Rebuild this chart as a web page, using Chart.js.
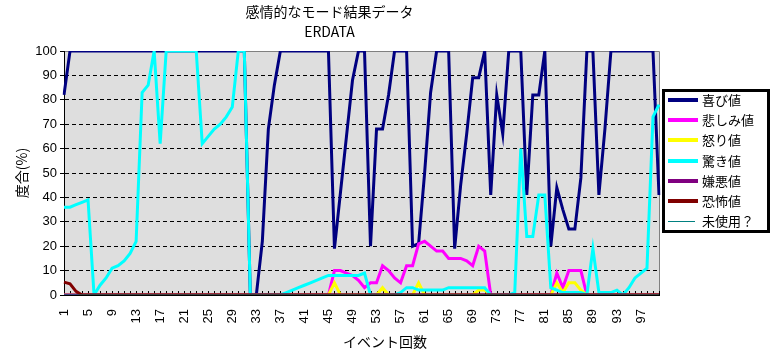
<!DOCTYPE html>
<html>
<head>
<meta charset="utf-8">
<title>ERDATA</title>
<script src="https://cdn.jsdelivr.net/npm/chart.js@4.4.1/dist/chart.umd.min.js"></script>
<style>
  html, body { margin: 0; padding: 0; background: #fff; }
</style>
</head>
<body>
<canvas id="erChart" width="774" height="359"></canvas>
<script>
// イベント番号（カテゴリ）
const categories = [
  1, 2, 3, 4, 5, 6, 7, 8, 9, 10, 11, 12, 13, 14, 15, 16, 17, 18, 19, 20,
  21, 22, 23, 24, 25, 26, 27, 28, 29, 30, 31, 32, 33, 34, 35, 36, 37, 38, 39, 40,
  41, 42, 43, 44, 45, 46, 47, 48, 49, 50, 51, 52, 53, 54, 55, 56, 57, 58, 59, 60,
  61, 62, 63, 64, 65, 66, 67, 68, 69, 70, 71, 72, 73, 74, 75, 76, 77, 78, 79, 80,
  81, 82, 83, 84, 85, 86, 87, 88, 89, 90, 91, 92, 93, 94, 95, 96, 97, 98, 99, 100
];
const xTickLabels = ['1', '5', '9', '13', '17', '21', '25', '29', '33', '37', '41', '45', '49',
  '53', '57', '61', '65', '69', '73', '77', '81', '85', '89', '93', '97'];
const yTickValues = [0, 10, 20, 30, 40, 50, 60, 70, 80, 90, 100];

const chartTitle = ['感情的なモード結果データ', 'ERDATA'];
const xAxisTitle = 'イベント回数';
const yAxisTitle = '度合(%)';
const seriesNames = ['喜び値', '悲しみ値', '怒り値', '驚き値', '嫌悪値', '恐怖値', '未使用？'];

// 各感情の値
const joyValues = [
  82, 100, 100, 100, 100, 100, 100, 100, 100, 100, 100, 100, 100, 100, 100, 100, 100, 100, 100, 100,
  100, 100, 100, 100, 100, 100, 100, 100, 100, 100, 100, 0, 0, 22, 68, 86, 100, 100, 100, 100,
  100, 100, 100, 100, 100, 19, 42, 65, 88, 100, 100, 20, 68, 68, 82, 100, 100, 100, 20, 21,
  50, 83, 100, 100, 100, 19, 45, 66, 89, 89, 100, 41, 82, 66, 100, 100, 100, 41, 82, 82,
  100, 20, 44, 35, 27, 27, 48, 100, 100, 41, 68, 100, 100, 100, 100, 100, 100, 100, 100, 41
];
const sadnessValues = [
  0, 0, 0, 0, 0, 0, 0, 0, 0, 0, 0, 0, 0, 0, 0, 0, 0, 0, 0, 0,
  0, 0, 0, 0, 0, 0, 0, 0, 0, 0, 0, 0, 0, 0, 0, 0, 0, 0, 0, 0,
  0, 0, 0, 0, 0, 10, 10, 9, 8, 6, 3, 5, 5, 12, 10, 7, 5, 12, 12, 21,
  22, 20, 18, 18, 15, 15, 15, 14, 12, 20, 18, 0, 0, 0, 0, 0, 0, 0, 0, 0,
  0, 0, 9, 3, 10, 10, 10, 0, 0, 0, 0, 0, 0, 0, 0, 0, 0, 0, 0, 0
];
const angerValues = [
  0, 0, 0, 0, 0, 0, 0, 0, 0, 0, 0, 0, 0, 0, 0, 0, 0, 0, 0, 0,
  0, 0, 0, 0, 0, 0, 0, 0, 0, 0, 0, 0, 0, 0, 0, 0, 0, 0, 0, 0,
  0, 0, 0, 0, 0, 5, 0, 0, 0, 0, 0, 0, 0, 3, 0, 0, 0, 0, 0, 5,
  0, 0, 0, 0, 0, 0, 0, 0, 0, 2, 2, 0, 0, 0, 0, 0, 0, 0, 0, 0,
  0, 0, 5, 1, 5, 5, 2, 0, 0, 0, 0, 0, 0, 0, 0, 0, 0, 0, 0, 0
];
const surpriseValues = [
  36, 36, 37, 38, 39, 0, 4, 7, 11, 12, 14, 17, 22, 83, 86, 100, 62, 100, 100, 100,
  100, 100, 100, 62, 65, 68, 70, 73, 77, 100, 100, 0, 0, 0, 0, 0, 0, 1, 2, 3,
  4, 5, 6, 7, 8, 8, 8, 8, 8, 8, 9, 0, 0, 0, 0, 0, 1, 3, 3, 2,
  2, 2, 2, 2, 3, 3, 3, 3, 3, 3, 3, 0, 0, 0, 0, 1, 60, 24, 24, 41,
  41, 3, 2, 1, 1, 1, 1, 0, 19, 1, 1, 1, 2, 0, 3, 7, 9, 11, 73, 78
];
const disgustValues = [
  0, 0, 0, 0, 0, 0, 0, 0, 0, 0, 0, 0, 0, 0, 0, 0, 0, 0, 0, 0,
  0, 0, 0, 0, 0, 0, 0, 0, 0, 0, 0, 0, 0, 0, 0, 0, 0, 0, 0, 0,
  0, 0, 0, 0, 0, 0, 0, 0, 0, 0, 0, 0, 0, 0, 0, 0, 0, 0, 0, 0,
  0, 0, 0, 0, 0, 0, 0, 0, 0, 0, 0, 0, 0, 0, 0, 0, 0, 0, 0, 0,
  0, 0, 0, 0, 0, 0, 0, 0, 0, 0, 0, 0, 0, 0, 0, 0, 0, 0, 0, 0
];
const fearValues = [
  5.3, 4.6, 1.5, 0, 0, 0, 0, 0, 0, 0, 0, 0, 0, 0, 0, 0, 0, 0, 0, 0,
  0, 0, 0, 0, 0, 0, 0, 0, 0, 0, 0, 0, 0, 0, 0, 0, 0, 0, 0, 0,
  0, 0, 0, 0, 0, 0, 0, 0, 0, 0, 0, 0, 0, 0, 0, 0, 0, 0, 0, 0,
  0, 0, 0, 0, 0, 0, 0, 0, 0, 0, 0, 0, 0, 0, 0, 0, 0, 0, 0, 0,
  0, 0, 0, 0, 0, 0, 0, 0, 0, 0, 0, 0, 0, 0, 0, 0, 0, 0, 0, 0
];
const unusedValues = [
  0, 0, 0, 0, 0, 0, 0, 0, 0, 0, 0, 0, 0, 0, 0, 0, 0, 0, 0, 0,
  0, 0, 0, 0, 0, 0, 0, 0, 0, 0, 0, 0, 0, 0, 0, 0, 0, 0, 0, 0,
  0, 0, 0, 0, 0, 0, 0, 0, 0, 0, 0, 0, 0, 0, 0, 0, 0, 0, 0, 0,
  0, 0, 0, 0, 0, 0, 0, 0, 0, 0, 0, 0, 0, 0, 0, 0, 0, 0, 0, 0,
  0, 0, 0, 0, 0, 0, 0, 0, 0, 0, 0, 0, 0, 0, 0, 0, 0, 0, 0, 0
];

const seriesValues = [joyValues, sadnessValues, angerValues, surpriseValues, disgustValues, fearValues, unusedValues];
const seriesColors = ['#000080', '#ff00ff', '#ffff00', '#00ffff', '#800080', '#800000', '#008080'];
const seriesWidths = [3, 3, 3, 3, 3, 3, 1];

const jpFont = '"Noto Sans CJK JP", sans-serif';
const numFont = '"Liberation Sans Narrow", "Liberation Sans", sans-serif';

// 背景・枠・目盛り・凡例・X軸タイトル
const excelLook = {
    id: 'excelLook',
    beforeDraw(chart) {
        const ctx = chart.ctx;
        const a = chart.chartArea;
        ctx.save();
        ctx.fillStyle = '#dedede';
        ctx.fillRect(a.left, a.top, a.right - a.left, a.bottom - a.top);
        ctx.strokeStyle = '#808080';
        ctx.lineWidth = 1;
        ctx.beginPath();
        ctx.moveTo(a.left, a.top + 0.5);
        ctx.lineTo(a.right + 0.5, a.top + 0.5);
        ctx.lineTo(a.right + 0.5, a.bottom);
        ctx.stroke();
        ctx.restore();
    },
    beforeDatasetsDraw(chart) {
        const ctx = chart.ctx;
        const a = chart.chartArea;
        const xScale = chart.scales.x;
        ctx.save();
        ctx.strokeStyle = '#000';
        ctx.lineWidth = 1;
        ctx.beginPath();
        categories.forEach(function(c, i) {
            const px = Math.round(xScale.getPixelForValue(i)) + 0.5;
            ctx.moveTo(px, a.bottom);
            ctx.lineTo(px, a.bottom - 4);
        });
        ctx.stroke();
        ctx.restore();
    },
    afterDraw(chart) {
        const ctx = chart.ctx;
        ctx.save();
        // X軸タイトル
        ctx.fillStyle = '#000';
        ctx.font = '14px ' + jpFont;
        ctx.textAlign = 'center';
        ctx.textBaseline = 'middle';
        ctx.fillText(xAxisTitle, 385, 342);

        // 凡例
        const box = { left: 662, top: 89, right: 770, bottom: 233 };
        ctx.fillStyle = '#fff';
        ctx.fillRect(box.left, box.top, box.right - box.left, box.bottom - box.top);
        ctx.strokeStyle = '#000';
        ctx.lineWidth = 3;
        ctx.strokeRect(box.left + 1.5, box.top + 1.5, box.right - box.left - 3, box.bottom - box.top - 3);
        ctx.textAlign = 'left';
        chart.data.datasets.forEach(function(ds, i) {
            const y = 100 + i * 20.2;
            const thin = ds.borderWidth === 1;
            ctx.strokeStyle = ds.borderColor;
            ctx.lineWidth = thin ? 1 : 4;
            ctx.beginPath();
            ctx.moveTo(668, Math.round(y) + (thin ? 0.5 : 0));
            ctx.lineTo(thin ? 695 : 698, Math.round(y) + (thin ? 0.5 : 0));
            ctx.stroke();
            ctx.fillStyle = '#000';
            ctx.font = '13px ' + jpFont;
            ctx.fillText(ds.label, 702, y);
        });
        ctx.restore();
    }
};

const ctx = document.getElementById('erChart').getContext('2d');
const erChart = new Chart(ctx, {
    type: 'line',
    data: {
        labels: categories,
        datasets: seriesNames.map(function(name, i) {
            return {
                label: name,
                data: seriesValues[i],
                borderColor: seriesColors[i],
                backgroundColor: seriesColors[i],
                borderWidth: seriesWidths[i],
                pointRadius: 0,
                tension: 0,
                fill: false,
                order: seriesNames.length - i   // 後の系列を上に描く
            };
        })
    },
    options: {
        responsive: false,
        animation: false,
        events: [],
        layout: {
            padding: { left: 0, top: 0, right: 115, bottom: 0 }
        },
        plugins: {
            legend: { display: false },
            tooltip: { enabled: false },
            title: {
                display: true,
                text: chartTitle,
                color: '#000',
                font: { family: jpFont, size: 14, weight: 'normal', lineHeight: '20px' },
                padding: { top: 2, bottom: 9 }
            }
        },
        scales: {
            x: {
                type: 'category',
                offset: false,
                grid: { display: false },
                border: { display: true, color: '#000', width: 1 },
                ticks: {
                    autoSkip: false,
                    minRotation: 90,
                    maxRotation: 90,
                    padding: 6,
                    color: '#000',
                    font: { family: numFont, size: 13 },
                    callback: function(value, index) {
                        const c = String(categories[index]);
                        return xTickLabels.includes(c) ? c : '';
                    }
                },
                afterFit: function(scale) { scale.height = 64; }
            },
            y: {
                min: 0,
                max: 100,
                afterBuildTicks: function(scale) {
                    scale.ticks = yTickValues.map(function(v) { return { value: v }; });
                },
                grid: {
                    color: function(c) {
                        return (c.tick && (c.tick.value === 0 || c.tick.value === 100)) ? 'rgba(0,0,0,0)' : '#000';
                    },
                    lineWidth: 1,
                    tickColor: '#000',
                    tickLength: 4
                },
                border: { display: true, color: '#000', width: 1, dash: [4, 3] },
                ticks: {
                    color: '#000',
                    padding: 3,
                    font: { family: numFont, size: 13 }
                },
                title: {
                    display: true,
                    text: yAxisTitle,
                    color: '#000',
                    font: { family: jpFont, size: 14 },
                    padding: { top: 13, bottom: 0 }
                },
                afterFit: function(scale) { scale.width = 64; }
            }
        }
    },
    plugins: [excelLook]
});
</script>
</body>
</html>
